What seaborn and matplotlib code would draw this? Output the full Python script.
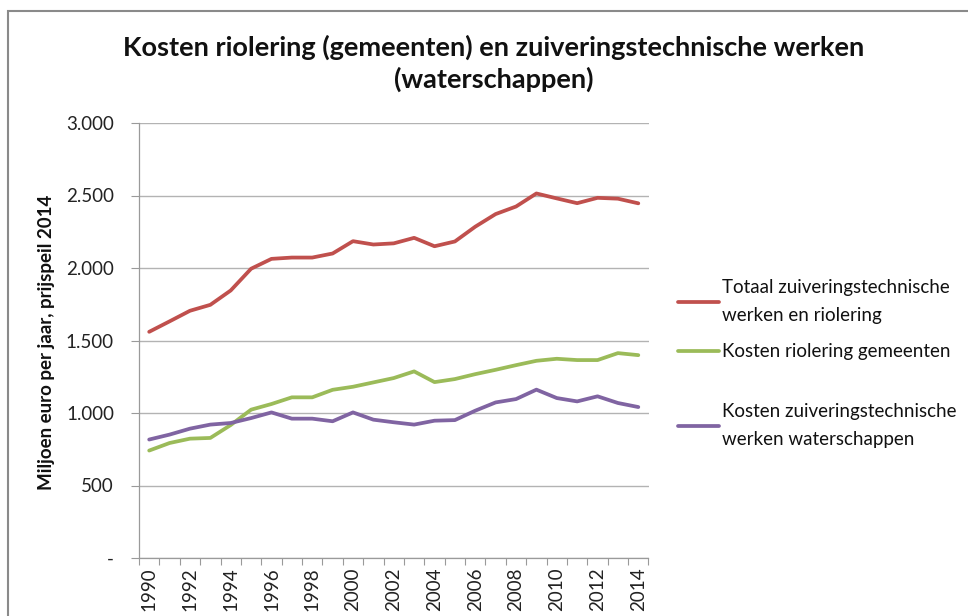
import pandas as pd
import matplotlib
matplotlib.use("Agg")
import matplotlib.pyplot as plt
import seaborn as sns
from matplotlib.patches import Rectangle
from matplotlib.ticker import FixedLocator, FuncFormatter

# --- data (miljoen euro, prijspeil 2014) ---
years = list(range(1990, 2015))
totaal = [1560, 1632, 1705, 1746, 1845, 1995, 2063, 2072, 2072, 2100, 2185, 2162, 2170,
          2208, 2150, 2183, 2285, 2372, 2424, 2514, 2480, 2447, 2484, 2478, 2446]
riolering = [741, 793, 823, 828, 917, 1023, 1062, 1108, 1108, 1160, 1181, 1211, 1241,
             1287, 1213, 1234, 1268, 1298, 1330, 1360, 1374, 1365, 1365, 1413, 1399]
zuivering = [817, 851, 892, 920, 931, 965, 1004, 961, 961, 943, 1004, 954, 936,
             920, 947, 951, 1016, 1073, 1096, 1161, 1103, 1080, 1115, 1069, 1041]

labels = ["Totaal zuiveringstechnische\nwerken en riolering",
          "Kosten riolering gemeenten",
          "Kosten zuiveringstechnische\nwerken waterschappen"]
colors = ["#C0504D", "#9BBB59", "#8064A2"]
title = "Kosten riolering (gemeenten) en zuiveringstechnische werken\n(waterschappen)"
ylabel = "Miljoen euro per jaar, prijspeil 2014"

df = pd.concat([
    pd.DataFrame({"jaar": years, "waarde": totaal, "reeks": labels[0]}),
    pd.DataFrame({"jaar": years, "waarde": riolering, "reeks": labels[1]}),
    pd.DataFrame({"jaar": years, "waarde": zuivering, "reeks": labels[2]}),
])

sns.set_style("white")
plt.rcParams["font.family"] = ["Lato", "DejaVu Sans"]

fig = plt.figure(figsize=(9.68, 6.16), dpi=100)
ax = fig.add_axes([139 / 968, 1 - 558 / 616, (648.5 - 139) / 968, (558 - 123) / 616])

sns.lineplot(data=df, x="jaar", y="waarde", hue="reeks", palette=colors,
             linewidth=2.7, sort=False, ax=ax, legend=False)

ax.set_xlim(1989.5, 2014.5)
ax.set_ylim(0, 3000)
ax.set_xlabel("")
ax.set_ylabel("")

# y axis
ax.set_yticks([0, 500, 1000, 1500, 2000, 2500, 3000])
ax.yaxis.set_major_formatter(FuncFormatter(
    lambda v, p: "-" if v == 0 else f"{int(v):,}".replace(",", ".")))
ax.yaxis.grid(True, color="#b3b3b3", linewidth=1.0)
ax.tick_params(axis="y", which="major", left=True, length=6, width=0.8,
               color="#9a9a9a", pad=12, labelsize=13.5, labelcolor="#222222")

# x axis: labels every other year, ticks at category boundaries
ax.set_xticks(years[::2])
ax.set_xticklabels([str(y) for y in years[::2]], rotation=90)
ax.xaxis.set_minor_locator(FixedLocator([y - 0.5 for y in years] + [years[-1] + 0.5]))
ax.tick_params(axis="x", which="major", length=0, pad=7, labelsize=13.5, labelcolor="#222222")
ax.tick_params(axis="x", which="minor", bottom=True, length=5, width=0.8, color="#9a9a9a")

for side in ["top", "right"]:
    ax.spines[side].set_visible(False)
for side in ["left", "bottom"]:
    ax.spines[side].set_color("#9a9a9a")
    ax.spines[side].set_linewidth(0.9)

fig.text(47 / 968, 1 - 342 / 616, ylabel, rotation=90, ha="center", va="center",
         fontsize=13.5, fontweight="bold", color="#111111")

fig.text(494 / 968, 1 - 63 / 616, title, ha="center", va="center",
         fontsize=19.5, fontweight="bold", color="#111111", linespacing=1.3)

# legend (Excel spacing is uneven, so two blocks)
handles = [plt.Line2D([], [], color=c, linewidth=2.7) for c in colors]
leg_kw = dict(loc="upper left", frameon=False, fontsize=13.5, handlelength=2.2,
              handletextpad=0.12, labelspacing=1.05, borderaxespad=0, borderpad=0)
leg1 = fig.legend(handles[:2], labels[:2], bbox_to_anchor=(678 / 968, 1 - 279 / 616), **leg_kw)
leg2 = fig.legend(handles[2:], labels[2:], bbox_to_anchor=(678 / 968, 1 - 403 / 616), **leg_kw)
for leg in (leg1, leg2):
    for t in leg.get_texts():
        t.set_linespacing(1.75)
        t.set_color("#111111")

# chart frame
fig.patches.append(Rectangle((8 / 968, -0.05), 1.1, 1 - 11 / 616 + 0.05,
                             transform=fig.transFigure, fill=False,
                             edgecolor="#8a8a8a", linewidth=1.5))

fig.savefig("out.png", dpi=100)
